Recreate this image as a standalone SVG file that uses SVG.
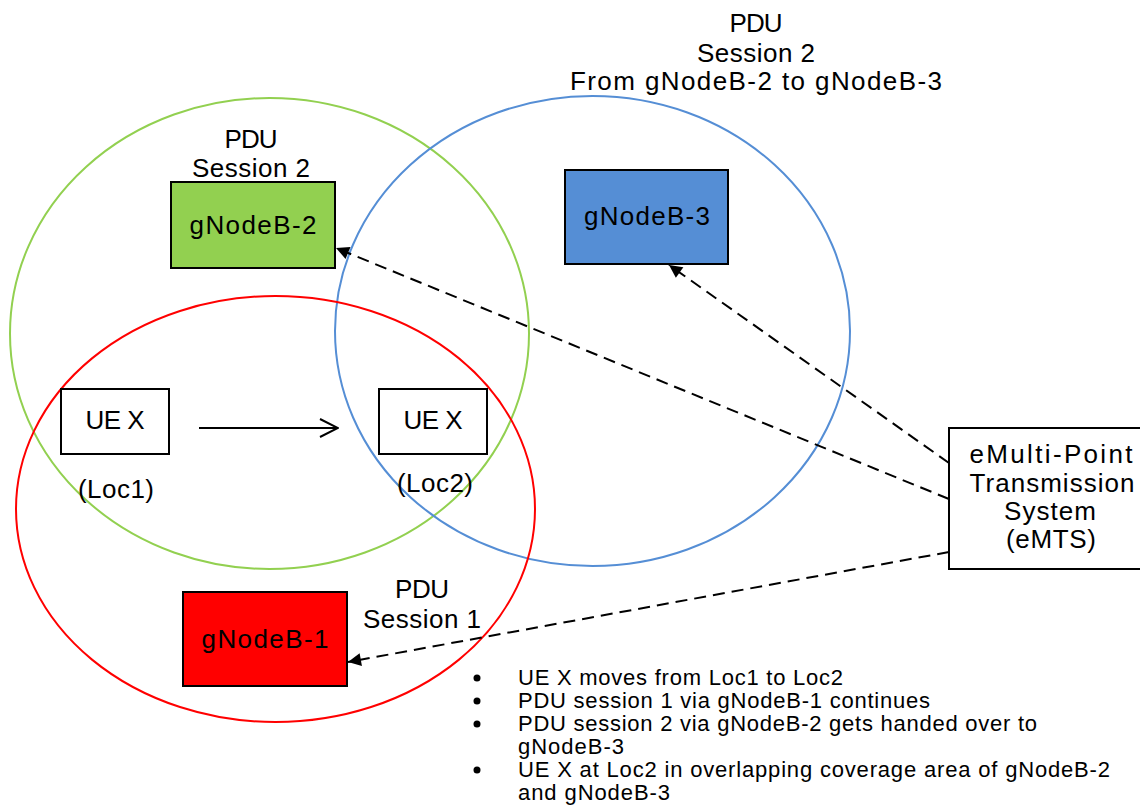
<svg xmlns="http://www.w3.org/2000/svg" width="1140" height="808" viewBox="0 0 1140 808">
<style>
  text { font-family: "Liberation Sans", Arial, sans-serif; fill: #000; }
  .lbl { font-size: 26px; text-anchor: middle; }
  .bul { font-size: 22px; }
  .cov { fill: none; stroke-width: 2; }
  .box { stroke: #000; stroke-width: 2; }
  .dash { fill: none; stroke: #000; stroke-width: 2; stroke-dasharray: 12 7; }
</style>
<defs>
  <marker id="tri" viewBox="0 0 10 10" refX="10" refY="5" markerUnits="userSpaceOnUse" markerWidth="17" markerHeight="13" orient="auto">
    <path d="M0,0 L10,5 L0,10 z" fill="#000" stroke="none"/>
  </marker>
  <marker id="open" viewBox="0 0 20 20" refX="19" refY="10" markerUnits="userSpaceOnUse" markerWidth="20" markerHeight="20" orient="auto">
    <path d="M1,1 L19,10 L1,19" fill="none" stroke="#000" stroke-width="2"/>
  </marker>
</defs>
<rect width="1140" height="808" fill="#fff"/>

<g id="coverage">
  <ellipse id="cov-gnb2" class="cov" cx="269.5" cy="333.5" rx="259.5" ry="235.5" stroke="#92D050"/>
  <ellipse id="cov-gnb3" class="cov" cx="592.5" cy="331" rx="257.5" ry="235" stroke="#558ED5"/>
  <ellipse id="cov-gnb1" class="cov" cx="275.5" cy="509" rx="259.5" ry="213" stroke="#FF0000"/>
</g>

<g id="label-top">
  <text class="lbl" x="756" y="32" textLength="53">PDU</text>
  <text class="lbl" x="756" y="62" textLength="118">Session 2</text>
  <text class="lbl" x="756" y="90" textLength="372">From gNodeB-2 to gNodeB-3</text>
</g>

<g id="label-s2">
  <text class="lbl" x="251" y="148" textLength="53">PDU</text>
  <text class="lbl" x="251" y="177" textLength="118">Session 2</text>
</g>

<g id="label-s1">
  <text class="lbl" x="422" y="598" textLength="54">PDU</text>
  <text class="lbl" x="422" y="628" textLength="118">Session 1</text>
</g>

<g id="gnb2">
  <rect class="box" x="171" y="182" width="164" height="86" fill="#92D050"/>
  <text class="lbl" x="253" y="234" textLength="127">gNodeB-2</text>
</g>

<g id="gnb3">
  <rect class="box" x="565" y="170" width="163" height="94" fill="#558ED5"/>
  <text class="lbl" x="647" y="225" textLength="126">gNodeB-3</text>
</g>

<g id="gnb1">
  <rect class="box" x="183" y="592" width="164" height="94" fill="#FF0000"/>
  <text class="lbl" x="265" y="648" textLength="127">gNodeB-1</text>
</g>

<g id="ue-loc1">
  <rect class="box" x="61" y="389" width="108" height="65" fill="#fff"/>
  <text class="lbl" x="115" y="429" textLength="59">UE X</text>
  <text class="lbl" x="116" y="498" textLength="76">(Loc1)</text>
</g>

<g id="ue-loc2">
  <rect class="box" x="379" y="389" width="108" height="65" fill="#fff"/>
  <text class="lbl" x="433" y="429" textLength="59">UE X</text>
  <text class="lbl" x="435" y="492" textLength="76">(Loc2)</text>
</g>

<g id="emts">
  <rect class="box" x="949" y="428" width="210" height="141" fill="#fff"/>
  <text class="lbl" x="1051" y="463" textLength="163">eMulti-Point</text>
  <text class="lbl" x="1052" y="492" textLength="165">Transmission</text>
  <text class="lbl" x="1050" y="520" textLength="92">System</text>
  <text class="lbl" x="1051" y="548" textLength="90">(eMTS)</text>
</g>

<g id="connectors">
  <line class="dash" x1="949" y1="499" x2="336" y2="248" marker-end="url(#tri)"/>
  <line class="dash" x1="949" y1="463" x2="669" y2="265" marker-end="url(#tri)"/>
  <line class="dash" x1="949" y1="552" x2="348" y2="662" marker-end="url(#tri)"/>
  <line x1="199" y1="428" x2="338" y2="428" stroke="#000" stroke-width="2" marker-end="url(#open)"/>
</g>

<g id="notes">
  <circle cx="477" cy="678" r="3.5" fill="#000"/>
  <circle cx="477" cy="701" r="3.5" fill="#000"/>
  <circle cx="477" cy="724" r="3.5" fill="#000"/>
  <circle cx="477" cy="770" r="3.5" fill="#000"/>
  <text class="bul" x="518" y="685" textLength="325">UE X moves from Loc1 to Loc2</text>
  <text class="bul" x="518" y="708" textLength="412">PDU session 1 via gNodeB-1 continues</text>
  <text class="bul" x="518" y="731" textLength="519">PDU session 2 via gNodeB-2 gets handed over to</text>
  <text class="bul" x="518" y="754" textLength="106">gNodeB-3</text>
  <text class="bul" x="518" y="777" textLength="592">UE X at Loc2 in overlapping coverage area of gNodeB-2</text>
  <text class="bul" x="518" y="800" textLength="152">and gNodeB-3</text>
</g>
</svg>
